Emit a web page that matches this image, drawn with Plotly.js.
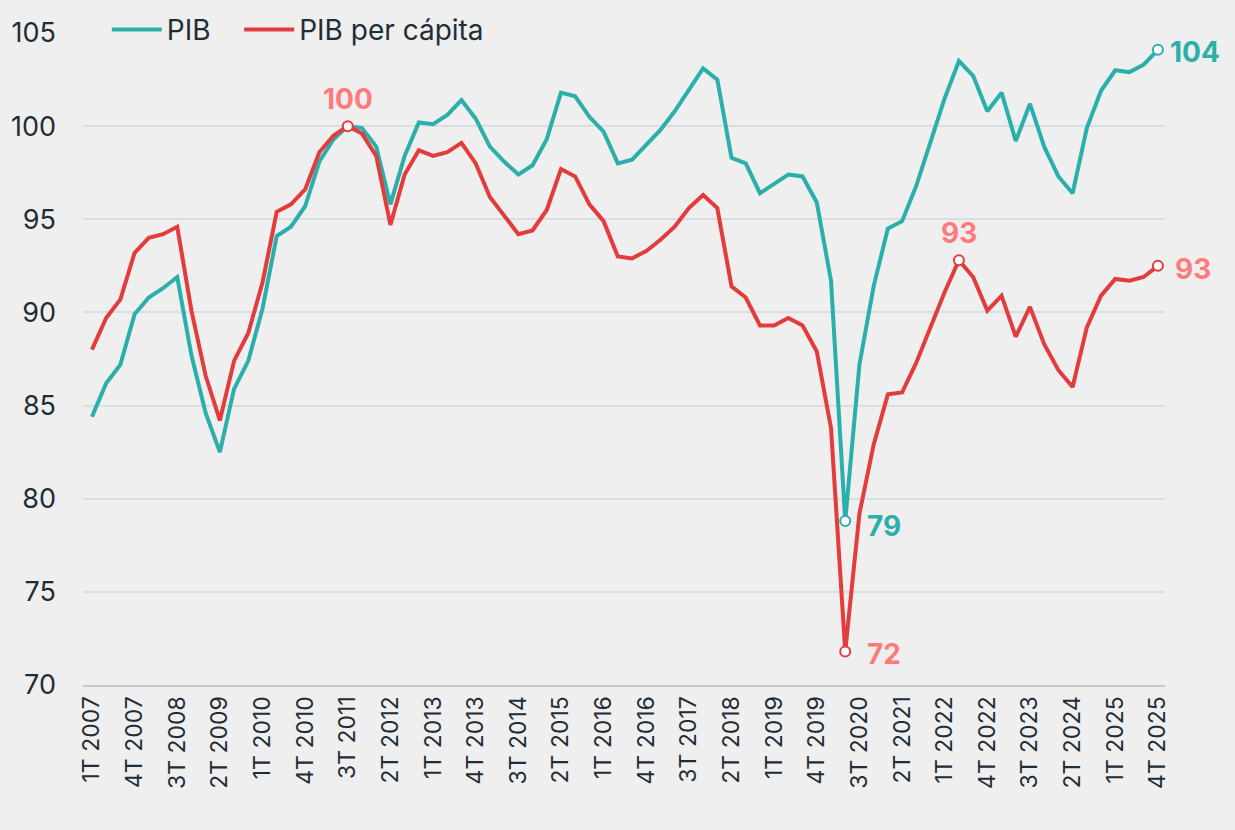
<!DOCTYPE html>
<html>
<head>
<meta charset="utf-8">
<script src="https://cdn.plot.ly/plotly-3.0.1.min.js"></script>
<style>
html,body{margin:0;padding:0;background:#efefef;}
#chart{width:1235px;height:830px;}
</style>
</head>
<body>
<div id="chart"></div>
<script>
const quarters = [
"1T 2007","2T 2007","3T 2007","4T 2007","1T 2008","2T 2008","3T 2008","4T 2008",
"1T 2009","2T 2009","3T 2009","4T 2009","1T 2010","2T 2010","3T 2010","4T 2010",
"1T 2011","2T 2011","3T 2011","4T 2011","1T 2012","2T 2012","3T 2012","4T 2012",
"1T 2013","2T 2013","3T 2013","4T 2013","1T 2014","2T 2014","3T 2014","4T 2014",
"1T 2015","2T 2015","3T 2015","4T 2015","1T 2016","2T 2016","3T 2016","4T 2016",
"1T 2017","2T 2017","3T 2017","4T 2017","1T 2018","2T 2018","3T 2018","4T 2018",
"1T 2019","2T 2019","3T 2019","4T 2019","1T 2020","2T 2020","3T 2020","4T 2020",
"1T 2021","2T 2021","3T 2021","4T 2021","1T 2022","2T 2022","3T 2022","4T 2022",
"1T 2023","2T 2023","3T 2023","4T 2023","1T 2024","2T 2024","3T 2024","4T 2024",
"1T 2025","2T 2025","3T 2025","4T 2025"
];

const tickLabels = [
"1T 2007","4T 2007","3T 2008","2T 2009","1T 2010","4T 2010","3T 2011","2T 2012",
"1T 2013","4T 2013","3T 2014","2T 2015","1T 2016","4T 2016","3T 2017","2T 2018",
"1T 2019","4T 2019","3T 2020","2T 2021","1T 2022","4T 2022","3T 2023","2T 2024",
"1T 2025","4T 2025"
];

const pib = [
84.4,86.2,87.2,89.9,90.8,91.3,91.9,87.7,
84.6,82.5,85.9,87.4,90.2,94.1,94.6,95.7,
98.1,99.3,100.0,99.9,98.9,95.8,98.4,100.2,
100.1,100.6,101.4,100.4,98.9,98.1,97.4,97.9,
99.3,101.8,101.6,100.5,99.7,98.0,98.2,99.0,
99.8,100.8,102.0,103.1,102.5,98.3,98.0,96.4,
96.9,97.4,97.3,95.9,91.7,78.8,87.2,91.4,
94.5,94.9,96.8,99.1,101.5,103.5,102.7,100.8,
101.8,99.2,101.2,98.9,97.3,96.4,99.9,101.9,
103.0,102.9,103.3,104.1
];

const pibPerCapita = [
88.0,89.7,90.7,93.2,94.0,94.2,94.6,90.1,
86.6,84.2,87.4,88.9,91.6,95.4,95.8,96.6,
98.6,99.5,100.0,99.6,98.4,94.7,97.4,98.7,
98.4,98.6,99.1,98.0,96.2,95.2,94.2,94.4,
95.5,97.7,97.3,95.8,94.9,93.0,92.9,93.3,
93.9,94.6,95.6,96.3,95.6,91.4,90.8,89.3,
89.3,89.7,89.3,87.9,83.8,71.8,79.2,82.9,
85.6,85.7,87.3,89.2,91.1,92.8,91.9,90.1,
90.9,88.7,90.3,88.3,86.9,86.0,89.2,90.9,
91.8,91.7,91.9,92.5
];

const seriesNames = ["PIB", "PIB per cápita"];

// highlighted points (indices into quarters)
const pibMarks = [53, 75];
const pibMarkLabels = ["79", "104"];
const pcMarks = [18, 53, 61, 75];
const pcMarkLabels = ["100", "72", "93", "93"];

const teal = "#2aafab";
const red = "#e23c3c";
const redLabel = "#ff7b7b";
const textCol = "#1f2d36";
const FONT = "Inter, 'Noto Sans', sans-serif";
const PAD = "\u00a0\u00a0\u00a0";

const traces = [
  {x: quarters, y: pib, type: "scatter", mode: "lines", name: seriesNames[0] + PAD,
   line: {color: teal, width: 4}, hoverinfo: "skip"},
  {x: quarters, y: pibPerCapita, type: "scatter", mode: "lines", name: seriesNames[1],
   line: {color: red, width: 4}, hoverinfo: "skip"},
  {x: pibMarks.map(i => quarters[i]), y: pibMarks.map(i => pib[i]),
   type: "scatter", mode: "markers", showlegend: false,
   marker: {size: 10, color: "#ffffff", line: {color: teal, width: 2}}},
  {x: pcMarks.map(i => quarters[i]), y: pcMarks.map(i => pibPerCapita[i]),
   type: "scatter", mode: "markers", showlegend: false,
   marker: {size: 10, color: "#ffffff", line: {color: red, width: 2}}}
];

const annotations = [];
pibMarks.forEach((idx, k) => {
  annotations.push({x: quarters[idx], y: pib[idx], text: pibMarkLabels[k],
    showarrow: false, xanchor: "left", yanchor: "middle",
    xshift: idx === 53 ? 20 : 10, yshift: idx === 53 ? -5 : -2,
    font: {family: FONT, size: 28, color: teal, weight: 700}});
});
pcMarks.forEach((idx, k) => {
  const above = (idx === 18 || idx === 61);
  annotations.push({x: quarters[idx], y: pibPerCapita[idx], text: pcMarkLabels[k],
    showarrow: false,
    xanchor: above ? "center" : "left",
    yanchor: above ? "bottom" : "middle",
    xshift: above ? 0 : (idx === 75 ? 15 : 20),
    yshift: above ? 8 : -3,
    font: {family: FONT, size: 28, color: redLabel, weight: 700}});
});

const layout = {
  width: 1235, height: 830,
  paper_bgcolor: "#efefef", plot_bgcolor: "#efefef",
  margin: {l: 83, r: 70, t: 33, b: 145, autoexpand: false},
  font: {family: FONT, color: textCol},
  showlegend: true,
  legend: {orientation: "h", x: 0.022, xanchor: "left", y: 1.005, yanchor: "middle",
           bgcolor: "rgba(0,0,0,0)", font: {size: 28, color: textCol},
           itemwidth: 50, traceorder: "normal"},
  xaxis: {
    type: "category", categoryorder: "array", categoryarray: quarters,
    range: [-0.63, 75.5],
    tickmode: "array", tickvals: tickLabels, ticktext: tickLabels,
    tickangle: -90, tickfont: {size: 23, color: textCol},
    showgrid: false, showline: true, linecolor: "#c8c8c8", linewidth: 2,
    ticks: "", zeroline: false
  },
  yaxis: {
    range: [70, 105], tickvals: [70, 75, 80, 85, 90, 95, 100, 105],
    tickfont: {size: 27, color: textCol},
    showgrid: true, gridcolor: "#dadee2", gridwidth: 2,
    zeroline: false, showline: false, ticks: "", ticklabelstandoff: 26
  },
  annotations: annotations
};

Plotly.newPlot("chart", traces, layout, {displayModeBar: false, staticPlot: true});
</script>
</body>
</html>
